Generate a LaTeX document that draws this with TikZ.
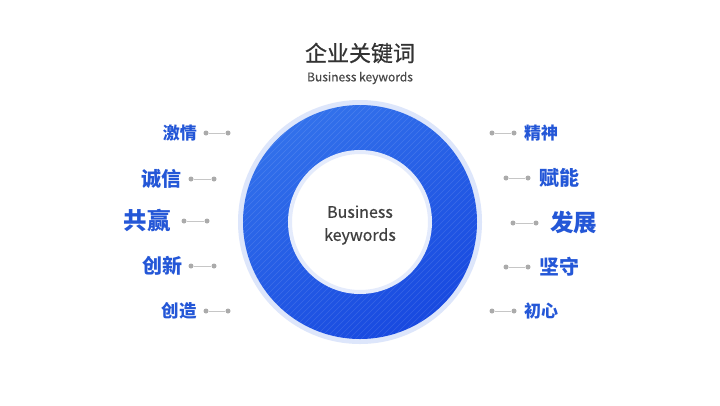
\documentclass[tikz,border=0pt]{standalone}
\usepackage{fontspec}
\setmainfont{Noto Sans CJK SC}
\newfontfamily\medfont{Noto Sans CJK SC}[FakeBold=0.6]
\usetikzlibrary{calc}
\definecolor{kwblue}{HTML}{2457D7}
\definecolor{haloblue}{HTML}{DDE6FB}
\definecolor{rimblue}{HTML}{E4EBFC}
\definecolor{ringtop}{HTML}{3271EB}
\definecolor{ringbottom}{HTML}{1849E0}
\definecolor{dotgray}{HTML}{ABABAB}
\definecolor{linegray}{HTML}{C6C6C6}
\definecolor{titlegray}{HTML}{333333}
\definecolor{subgray}{HTML}{4A4A4A}
\definecolor{coregray}{HTML}{404040}

\begin{document}
\begin{tikzpicture}[
x=1pt,
y=-1pt,
word/.style={
  text=kwblue,
  inner sep=0pt
  },
dot/.style={
  circle,
  fill=dotgray,
  inner sep=0pt,
  minimum size=5pt
  },
link/.style={
  draw=linegray,
  line width=1pt
  },
>=latex
]
\useasboundingbox (0,0) rectangle (720,405);
\fill[white] (0,0) rectangle (720,405);

% title
\node[text=titlegray, font=\medfont\fontsize{22}{26}\selectfont] (title) at (360,53) {企业关键词};
\node[text=subgray, font=\medfont\fontsize{12}{14}\selectfont] (subtitle) at (360,78) {Business keywords};

% ring
\node[circle, fill=haloblue, minimum size=244pt, inner sep=0pt] (halo) at (360,222) {};
\shade[top color=ringtop, bottom color=ringbottom, shading angle=30]
  (halo.center) circle[radius=117pt];
\begin{scope}
\clip (halo.center) circle[radius=117pt];
\foreach \k in {-260,-254,...,260}
  \draw[white, opacity=0.12, line width=0.6pt]
    ($(halo.center)+(\k-130,130)$) -- ($(halo.center)+(\k+130,-130)$);
\end{scope}
\node[circle, fill=white, draw=rimblue, line width=4pt, minimum size=140pt] (core) at (halo.center) {};
\node[align=center, text=coregray, font=\medfont\fontsize{16}{23}\selectfont]
  (corelabel) at ([yshift=-3pt]core.center) {Business\\keywords};

% left words
\foreach \txt/\tx/\ty/\fs/\da/\db [count=\i] in
  {激情/197/133/17/206/228,
   诚信/182/179/20/191/214,
   共赢/171/221/23.5/184/207,
   创新/183/266/20/191/214,
   创造/197/311/17.5/206/228}
{
  \node[word, anchor=east, font=\bfseries\fontsize{\fs}{\fs}\selectfont] (l\i) at (\tx,\ty) {\txt};
  \node[dot] (la\i) at (\da,\ty) {};
  \node[dot] (lb\i) at (\db,\ty) {};
  \draw[link] (la\i) -- (lb\i);
}

% right words
\foreach \txt/\tx/\ty/\fs/\da/\db [count=\i] in
  {精神/524/133/17/492/514,
   赋能/539/178/20/506/528,
   发展/550/223/23.5/513/536,
   坚守/539/267/20/506/528,
   初心/524/311/17/492/514}
{
  \node[word, anchor=west, font=\bfseries\fontsize{\fs}{\fs}\selectfont] (r\i) at (\tx,\ty) {\txt};
  \node[dot] (ra\i) at (\da,\ty) {};
  \node[dot] (rb\i) at (\db,\ty) {};
  \draw[link] (ra\i) -- (rb\i);
}
\end{tikzpicture}
\end{document}
